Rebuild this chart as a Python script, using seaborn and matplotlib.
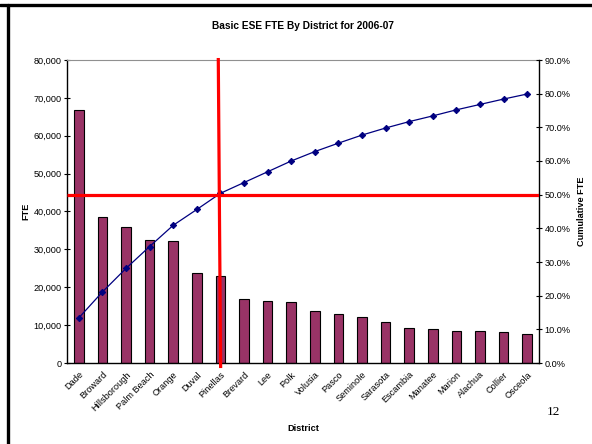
import numpy as np
import pandas as pd
import matplotlib
matplotlib.use("Agg")
import matplotlib.pyplot as plt
import matplotlib.ticker as mticker
from matplotlib.lines import Line2D
import seaborn as sns

# Datos
districts = ["Dade", "Broward", "Hillsborough", "Palm Beach", "Orange", "Duval",
             "Pinellas", "Brevard", "Lee", "Polk", "Volusia", "Pasco", "Seminole",
             "Sarasota", "Escambia", "Manatee", "Marion", "Alachua", "Collier", "Osceola"]
fte = [66800, 38630, 35800, 32560, 32100, 23750, 22880, 16990, 16280, 16100,
       13830, 12850, 12150, 10740, 9240, 9060, 8450, 8450, 8100, 7570]
cumulative_pct = [13.4, 21.1, 28.1, 34.6, 40.9, 45.6, 50.4, 53.6, 56.8, 60.0,
                  62.8, 65.3, 67.7, 69.8, 71.7, 73.4, 75.2, 76.8, 78.4, 79.9]
cutoff_pct = 50.0      # linea roja horizontal (eje derecho)
cutoff_pos = 5.94      # linea roja vertical (posicion de categoria)

sns.set_style("white")
plt.rcParams["font.family"] = ["Liberation Sans", "DejaVu Sans"]
plt.rcParams.update({"text.color": "black", "axes.labelcolor": "black",
                     "xtick.color": "black", "ytick.color": "black"})

data = pd.DataFrame({"District": districts, "FTE": fte, "Cumulative": cumulative_pct})
data["pos"] = np.arange(len(data))

fig = plt.figure(figsize=(5.92, 4.44), dpi=100)
ax = fig.add_axes([67 / 592, 81 / 444, 472 / 592, 303 / 444])

sns.barplot(data=data, x="District", y="FTE", color="#993366", saturation=1,
            width=0.41, edgecolor="black", linewidth=0.8, ax=ax)
ax.set_xlim(-0.5, len(districts) - 0.5)
ax.set_ylim(0, 80000)
ax.yaxis.set_major_locator(mticker.MultipleLocator(10000))
ax.yaxis.set_major_formatter(mticker.StrMethodFormatter("{x:,.0f}"))
ax.tick_params(axis="y", labelsize=6.6, direction="inout", length=4, width=0.8, pad=2)
ax.set_xticks(data["pos"])
ax.set_xticklabels(districts, rotation=45, ha="right", va="top",
                   rotation_mode="anchor", fontsize=6.6)
ax.tick_params(axis="x", which="major", length=0, pad=5)
ax.set_xticks(np.arange(-0.5, len(districts)), minor=True)
ax.tick_params(axis="x", which="minor", direction="inout", length=4, width=0.8)

for side in ["left", "bottom"]:
    ax.spines[side].set_color("black")
    ax.spines[side].set_linewidth(1.0)
ax.spines["top"].set_color("#909090")
ax.spines["top"].set_linewidth(0.8)
ax.spines["right"].set_visible(False)

ax.set_xlabel("District", fontsize=6.6, fontweight="bold", labelpad=8)
ax.set_ylabel("FTE", fontsize=6.6, fontweight="bold", labelpad=2)
ax.set_title("Basic ESE FTE By District for 2006-07", fontsize=7.3,
             fontweight="bold", pad=22)

# Eje derecho: porcentaje acumulado
ax2 = ax.twinx()
sns.lineplot(data=data, x="pos", y="Cumulative", color="#000080", linewidth=0.9,
             marker="D", markersize=3.2, markeredgecolor="#000080", ax=ax2)
ax2.set_ylim(0, 90)
ax2.set_xlim(-0.5, len(districts) - 0.5)
ax2.yaxis.set_major_locator(mticker.MultipleLocator(10))
ax2.yaxis.set_major_formatter(mticker.StrMethodFormatter("{x:.1f}%"))
ax2.tick_params(axis="y", labelsize=6.6, direction="inout", length=4, width=0.8, pad=2)
ax2.set_ylabel("Cumulative FTE", fontsize=6.6, fontweight="bold", labelpad=4.5)
for side in ["top", "left", "bottom"]:
    ax2.spines[side].set_visible(False)
ax2.spines["right"].set_color("black")
ax2.spines["right"].set_linewidth(1.0)
ax2.set_xlabel("")

# Lineas rojas de referencia
ax2.plot([-0.5, len(districts) - 0.5], [cutoff_pct, cutoff_pct],
         color="#ff0000", linewidth=2.3, solid_capstyle="butt", zorder=5)
ax2.plot([cutoff_pos - 0.03, cutoff_pos + 0.07], [90.6, -1.5],
         color="#ff0000", linewidth=2.3, solid_capstyle="butt", zorder=5, clip_on=False)

# Marco de la diapositiva
fig.add_artist(Line2D([0, 1], [1 - 5 / 444, 1 - 5 / 444], color="black",
                      linewidth=2.4, transform=fig.transFigure))
fig.add_artist(Line2D([8 / 592, 8 / 592], [0, 1 - 5 / 444], color="black",
                      linewidth=2.4, transform=fig.transFigure))

# Numero de pagina
fig.text(553 / 592, 1 - 412 / 444, "12", fontsize=9.5, family="Liberation Serif",
         ha="center", va="center")

fig.savefig("out.png", dpi=100)
